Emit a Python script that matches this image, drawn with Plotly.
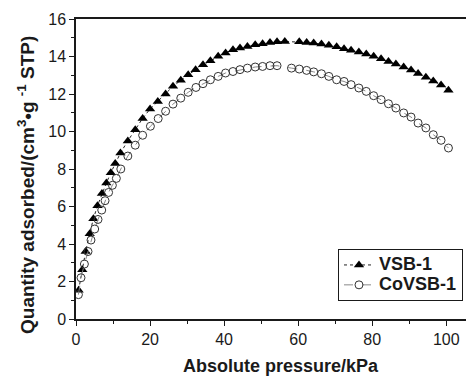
import plotly.graph_objects as go

# VSB-1 (filled triangles)
vsb_x = [0.7, 1.7, 2.6, 3.7, 4.7, 5.8, 7.0, 8.2, 9.4, 10.6, 12.0, 14.0, 16.0, 18.0, 20.0,
         22.1, 24.2, 26.2, 28.3, 30.3, 32.3, 34.3, 36.3, 38.4, 40.4, 42.4, 44.3, 46.3,
         48.4, 50.4, 52.4, 54.3, 56.4, 60.3, 62.3, 64.2, 66.3, 68.3, 70.4, 72.4, 74.3,
         76.4, 78.4, 80.4, 82.4, 84.4, 86.4, 88.5, 90.5, 92.4, 94.5, 96.5, 98.6, 100.6]
vsb_y = [1.53, 2.63, 3.6, 4.55, 5.35, 6.04, 6.7, 7.25, 7.8, 8.3, 8.85, 9.5, 10.1, 10.7, 11.2,
         11.6, 12.0, 12.41, 12.73, 13.03, 13.3, 13.56, 13.78, 14.01, 14.19, 14.36, 14.45, 14.54,
         14.63, 14.68, 14.75, 14.79, 14.8, 14.79, 14.75, 14.72, 14.67, 14.6, 14.52, 14.42, 14.33,
         14.24, 14.13, 14.01, 13.88, 13.74, 13.6, 13.44, 13.28, 13.1, 12.9, 12.69, 12.48, 12.2]

# CoVSB-1 (open circles)
co_x = [0.65, 1.35, 2.27, 3.25, 4.05, 5.05, 5.95, 6.95, 7.85, 8.8, 9.83, 10.9, 12.1, 14.0,
        16.0, 18.0, 20.1, 22.2, 24.2, 26.2, 28.3, 30.3, 32.4, 34.3, 36.3, 38.4, 40.4, 42.4,
        44.3, 46.3, 48.4, 50.4, 52.4, 54.3, 58.2, 60.3, 62.3, 64.2, 66.3, 68.3, 70.4, 72.4,
        74.3, 76.4, 78.4, 80.4, 82.4, 84.4, 86.4, 88.5, 90.5, 92.4, 94.5, 96.5, 98.6, 100.6]
co_y = [1.3, 2.2, 2.93, 3.6, 4.21, 4.8, 5.31, 5.81, 6.31, 6.75, 7.13, 7.5, 8.0, 8.69,
        9.27, 9.8, 10.28, 10.69, 11.08, 11.46, 11.78, 12.09, 12.35, 12.55, 12.76, 12.94, 13.12, 13.2,
        13.3, 13.38, 13.44, 13.47, 13.51, 13.51, 13.38, 13.33, 13.26, 13.18, 13.08, 12.94, 12.76, 12.67,
        12.5, 12.32, 12.14, 11.91, 11.7, 11.48, 11.25, 10.99, 10.77, 10.45, 10.19, 9.83, 9.53, 9.12]

series_names = ["VSB-1", "CoVSB-1"]
x_ticks = [0, 20, 40, 60, 80, 100]
y_ticks = [0, 2, 4, 6, 8, 10, 12, 14, 16]
x_title = "Absolute pressure/kPa"
y_title = "Quantity adsorbed/(cm<sup>3</sup>•g\u00a0<sup>-1</sup>\u00a0STP)"

FONT = "Liberation Sans, Arial, sans-serif"
INK = "#1a1a1a"

# page body margin offset (8px) compensation
OFF = 8
W, H = 474 - OFF, 376 - OFF
L, T, B = 76 - OFF, 19 - OFF, 57
PW = W - L
PH = H - T - B

fig = go.Figure()
fig.add_trace(go.Scatter(
    x=vsb_x, y=vsb_y, mode="lines+markers",
    name='<span style="font-size:18px"><b>' + series_names[0] + "</b></span>",
    line=dict(color="#222222", width=1, dash="dot"),
    marker=dict(symbol="triangle-up", size=9, color="black", line=dict(width=0)),
))
fig.add_trace(go.Scatter(
    x=co_x, y=co_y, mode="lines+markers",
    name='<span style="font-size:18px"><b>' + series_names[1] + "</b></span>",
    line=dict(color="#888888", width=1, dash="dash"),
    marker=dict(symbol="circle-open", size=8, color="#333333", line=dict(width=1)),
))

axis_common = dict(
    showgrid=False, zeroline=False, showline=True, linecolor=INK, linewidth=1.5,
    ticks="outside", ticklen=5, tickwidth=1.2, tickcolor=INK, automargin=False,
    tickfont=dict(family=FONT, size=16, color=INK), mirror=True,
)
fig.update_xaxes(
    range=[0, 107.5], tickvals=x_ticks,
    minor=dict(ticks="outside", ticklen=3, tickcolor=INK, dtick=10, tick0=0, showgrid=False),
    **axis_common,
)
fig.update_yaxes(
    range=[0, 16], tickvals=y_ticks,
    minor=dict(ticks="outside", ticklen=3, tickcolor=INK, dtick=1, tick0=0, showgrid=False),
    **axis_common,
)

def px_x(px):
    return (px - OFF - L) / PW

def px_y(py):
    return (T + PH - (py - OFF)) / PH

fig.add_annotation(
    text="<b>" + x_title + "</b>", xref="paper", yref="paper",
    x=px_x(281), y=px_y(366), xanchor="center", yanchor="middle",
    showarrow=False, font=dict(family=FONT, size=18, color=INK),
)
fig.add_annotation(
    text="<b>" + y_title + "</b>", xref="paper", yref="paper", textangle=-90,
    x=px_x(26), y=px_y(185), xanchor="center", yanchor="middle",
    showarrow=False, font=dict(family=FONT, size=19, color=INK),
)

fig.update_layout(
    width=W, height=H,
    margin=dict(l=L, r=0, t=T, b=B),
    paper_bgcolor="white", plot_bgcolor="white",
    showlegend=True,
    legend=dict(
        x=px_x(463), y=px_y(301), xanchor="right", yanchor="bottom",
        bordercolor=INK, borderwidth=1, bgcolor="white",
        font=dict(family=FONT, size=13, color=INK),
        tracegroupgap=0, itemwidth=30,
    ),
)

fig.write_html("out.html")
